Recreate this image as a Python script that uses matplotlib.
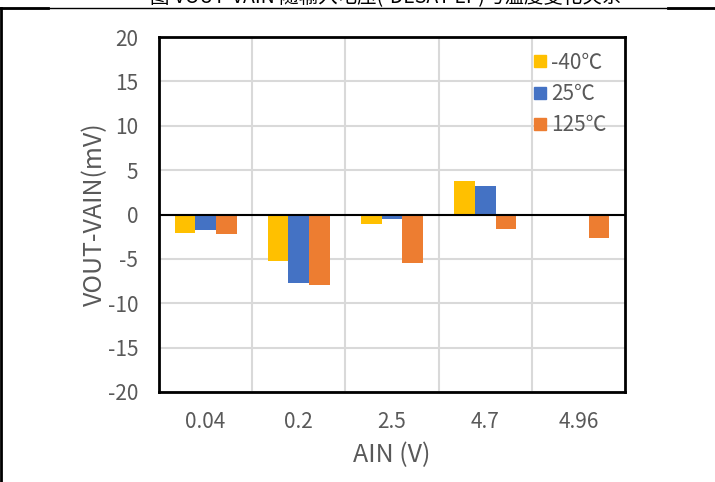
import numpy as np
import matplotlib.pyplot as plt
from matplotlib.lines import Line2D

plt.rcParams['font.family'] = ['Noto Sans CJK SC', 'DejaVu Sans']
plt.rcParams['font.weight'] = 'light'
plt.rcParams['axes.unicode_minus'] = False

# 数据
categories = ["0.04", "0.2", "2.5", "4.7", "4.96"]
series_names = ["-40℃", "25℃", "125℃"]
v_m40 = [-2.1, -5.2, -1.1, 3.8, 0.1]
v_25 = [-1.8, -7.7, -0.5, 3.2, 0.0]
v_125 = [-2.2, -7.9, -5.5, -1.6, -2.7]
colors = ["#FFC000", "#4472C4", "#ED7D31"]
y_ticks = [-20, -15, -10, -5, 0, 5, 10, 15, 20]

fig = plt.figure(figsize=(7.15, 4.82), dpi=100)
ax = fig.add_axes([159 / 715, 1 - 392 / 482, 466 / 715, 355 / 482])

x = np.arange(len(categories))
w = 0.222
for i, (vals, name) in enumerate(zip([v_m40, v_25, v_125], series_names)):
    ax.bar(x + (i - 1) * w, vals, width=w, color=colors[i], label=name, zorder=3)

ax.set_xlim(-0.5, len(categories) - 0.5)
ax.set_ylim(-20, 20)
ax.set_yticks(y_ticks)
ax.set_xticks(x)
ax.set_xticklabels(categories)

# 网格
for b in np.arange(0.5, len(categories) - 0.5, 1):
    ax.axvline(b, color="#d9d9d9", lw=1.5, zorder=1)
for t in y_ticks:
    ax.axhline(t, color="#d9d9d9", lw=1.5, zorder=1)
ax.axhline(0, color="black", lw=1.5, zorder=4)

for s in ax.spines.values():
    s.set_color("black")
    s.set_linewidth(2)
    s.set_zorder(5)

ax.tick_params(length=0, labelsize=15, colors="#595959", pad=15)
ax.tick_params(axis="x", pad=14)
ax.set_xlabel("AIN (V)", fontsize=18, color="#595959", labelpad=6)
ax.set_ylabel("VOUT-VAIN(mV)", fontsize=18, color="#595959", labelpad=0)

handles = [Line2D([], [], marker="s", ls="", markersize=8, color=c) for c in colors]
leg = ax.legend(handles, series_names, loc="upper left", frameon=False,
                bbox_to_anchor=(356 / 466, 1.0), fontsize=15, handletextpad=0.05,
                labelspacing=0.45, borderaxespad=0.3, handlelength=1.0)
for t in leg.get_texts():
    t.set_color("#595959")

# 外框线
fig.add_artist(Line2D([0, 1], [1 - 8 / 482, 1 - 8 / 482], color="black", lw=1))
fig.add_artist(Line2D([0, 48 / 715], [1 - 8 / 482, 1 - 8 / 482], color="black", lw=2))
fig.add_artist(Line2D([668 / 715, 1], [1 - 8 / 482, 1 - 8 / 482], color="black", lw=2))
fig.add_artist(Line2D([1 / 715, 1 / 715], [0, 1 - 8 / 482], color="black", lw=2))

# 被截断的标题 (原图只露出底部)
fig.text(0.54, 1 - 3 / 482, "图 VOUT-VAIN 随输入电压(-DESAT EP)与温度变化关系",
         ha="center", va="baseline", fontsize=14, color="black", fontweight="normal")

fig.savefig("out.png", dpi=100)
